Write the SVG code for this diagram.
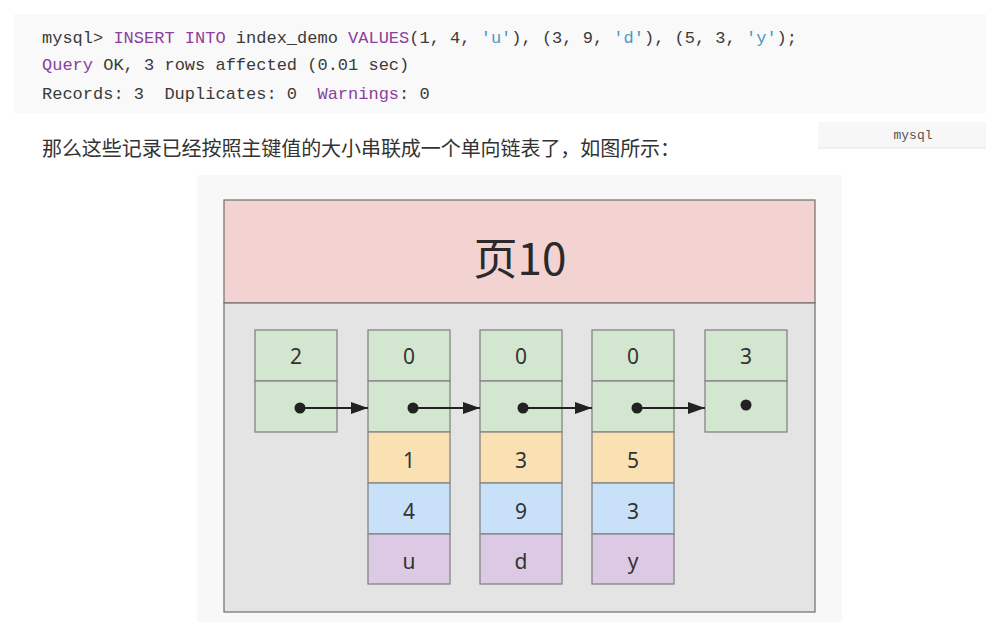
<svg xmlns="http://www.w3.org/2000/svg" width="986" height="622" viewBox="0 0 986 622">
<defs>
<style>
.code{font-family:"Liberation Mono","DejaVu Sans Mono",monospace;font-size:17px;fill:#3a3a3a}
.kw{fill:#8b3f9f}
.str{fill:#4a98c4}
.cn{font-family:"Noto Sans CJK SC","Noto Sans",sans-serif;font-size:20px;fill:#333}
.cell{stroke:#858585;stroke-width:1.3}
.g{fill:#d3e6d0}
.o{fill:#f9e1b3}
.b{fill:#c8e0f8}
.p{fill:#dccae4}
.lbl{font-family:"Noto Sans","Open Sans",sans-serif;font-size:21px;fill:#333;text-anchor:middle}
.dot{fill:#222}
.arr{stroke:#222;stroke-width:2;fill:none;marker-end:url(#ah)}
</style>
<marker id="ah" viewBox="0 0 17 12" refX="17" refY="6" markerWidth="17" markerHeight="12" markerUnits="userSpaceOnUse" orient="auto">
<path d="M0,0 L17,6 L0,12 z" fill="#222"/>
</marker>
</defs>
<rect width="986" height="622" fill="#ffffff"/>
<g id="code">
<rect x="14" y="14" width="972" height="99" fill="#f9f9f9"/>
<text class="code" x="42" y="43" xml:space="preserve">mysql&gt; <tspan class="kw">INSERT INTO</tspan> index_demo <tspan class="kw">VALUES</tspan>(1, 4, <tspan class="str">'u'</tspan>), (3, 9, <tspan class="str">'d'</tspan>), (5, 3, <tspan class="str">'y'</tspan>);</text>
<text class="code" x="42" y="70" xml:space="preserve"><tspan class="kw">Query</tspan> OK, 3 rows affected (0.01 sec)</text>
<text class="code" x="42" y="99" xml:space="preserve">Records: 3  Duplicates: 0  <tspan class="kw">Warnings</tspan>: 0</text>
</g>
<g id="caption">
<text class="cn" x="42" y="156" textLength="638" lengthAdjust="spacing">那么这些记录已经按照主键值的大小串联成一个单向链表了，如图所示：</text>
</g>
<g id="lang-tag">
<rect x="818" y="122" width="168" height="26" fill="#f7f7f7"/>
<line x1="818" y1="148" x2="986" y2="148" stroke="#e6e6e6"/>
<text x="913" y="139" font-family="Liberation Mono,monospace" font-size="13" fill="#555" text-anchor="middle">mysql</text>
</g>
<rect x="197" y="175" width="645" height="447" fill="#f8f8f8"/>
<g id="page">
<rect x="224" y="200" width="591" height="103" fill="#f2d3d1" stroke="#777" stroke-width="1.3"/>
<rect x="224" y="303" width="591" height="309" fill="#e4e4e4" stroke="#777" stroke-width="1.3"/>
<text x="520" y="275" font-family="Noto Sans CJK SC,Noto Sans,sans-serif" font-size="44" fill="#2a2a2a" text-anchor="middle">页10</text>
</g>
<g id="infimum">
<rect class="cell g" x="255" y="330" width="82" height="51"/>
<rect class="cell g" x="255" y="381" width="82" height="51"/>
<text class="lbl" x="296" y="364">2</text>
<circle class="dot" cx="300" cy="408" r="5.5"/>
</g>
<g id="record1">
<rect class="cell g" x="368" y="330" width="82" height="51"/>
<rect class="cell g" x="368" y="381" width="82" height="51"/>
<rect class="cell o" x="368" y="432" width="82" height="51"/>
<rect class="cell b" x="368" y="483" width="82" height="51"/>
<rect class="cell p" x="368" y="534" width="82" height="50"/>
<text class="lbl" x="409" y="364">0</text>
<circle class="dot" cx="413" cy="408" r="5.5"/>
<text class="lbl" x="409" y="468">1</text>
<text class="lbl" x="409" y="519">4</text>
<text class="lbl" x="409" y="569">u</text>
</g>
<g id="record2">
<rect class="cell g" x="480" y="330" width="82" height="51"/>
<rect class="cell g" x="480" y="381" width="82" height="51"/>
<rect class="cell o" x="480" y="432" width="82" height="51"/>
<rect class="cell b" x="480" y="483" width="82" height="51"/>
<rect class="cell p" x="480" y="534" width="82" height="50"/>
<text class="lbl" x="521" y="364">0</text>
<circle class="dot" cx="523" cy="408" r="5.5"/>
<text class="lbl" x="521" y="468">3</text>
<text class="lbl" x="521" y="519">9</text>
<text class="lbl" x="521" y="569">d</text>
</g>
<g id="record3">
<rect class="cell g" x="592" y="330" width="82" height="51"/>
<rect class="cell g" x="592" y="381" width="82" height="51"/>
<rect class="cell o" x="592" y="432" width="82" height="51"/>
<rect class="cell b" x="592" y="483" width="82" height="51"/>
<rect class="cell p" x="592" y="534" width="82" height="50"/>
<text class="lbl" x="633" y="364">0</text>
<circle class="dot" cx="637" cy="408" r="5.5"/>
<text class="lbl" x="633" y="468">5</text>
<text class="lbl" x="633" y="519">3</text>
<text class="lbl" x="633" y="569">y</text>
</g>
<g id="supremum">
<rect class="cell g" x="705" y="330" width="82" height="51"/>
<rect class="cell g" x="705" y="381" width="82" height="51"/>
<text class="lbl" x="746" y="364">3</text>
<circle class="dot" cx="746" cy="405" r="5.5"/>
</g>
<g id="connectors">
<line class="arr" x1="300" y1="408" x2="368" y2="408"/>
<line class="arr" x1="413" y1="408" x2="480" y2="408"/>
<line class="arr" x1="523" y1="408" x2="592" y2="408"/>
<line class="arr" x1="637" y1="408" x2="705" y2="408"/>
</g>
</svg>
